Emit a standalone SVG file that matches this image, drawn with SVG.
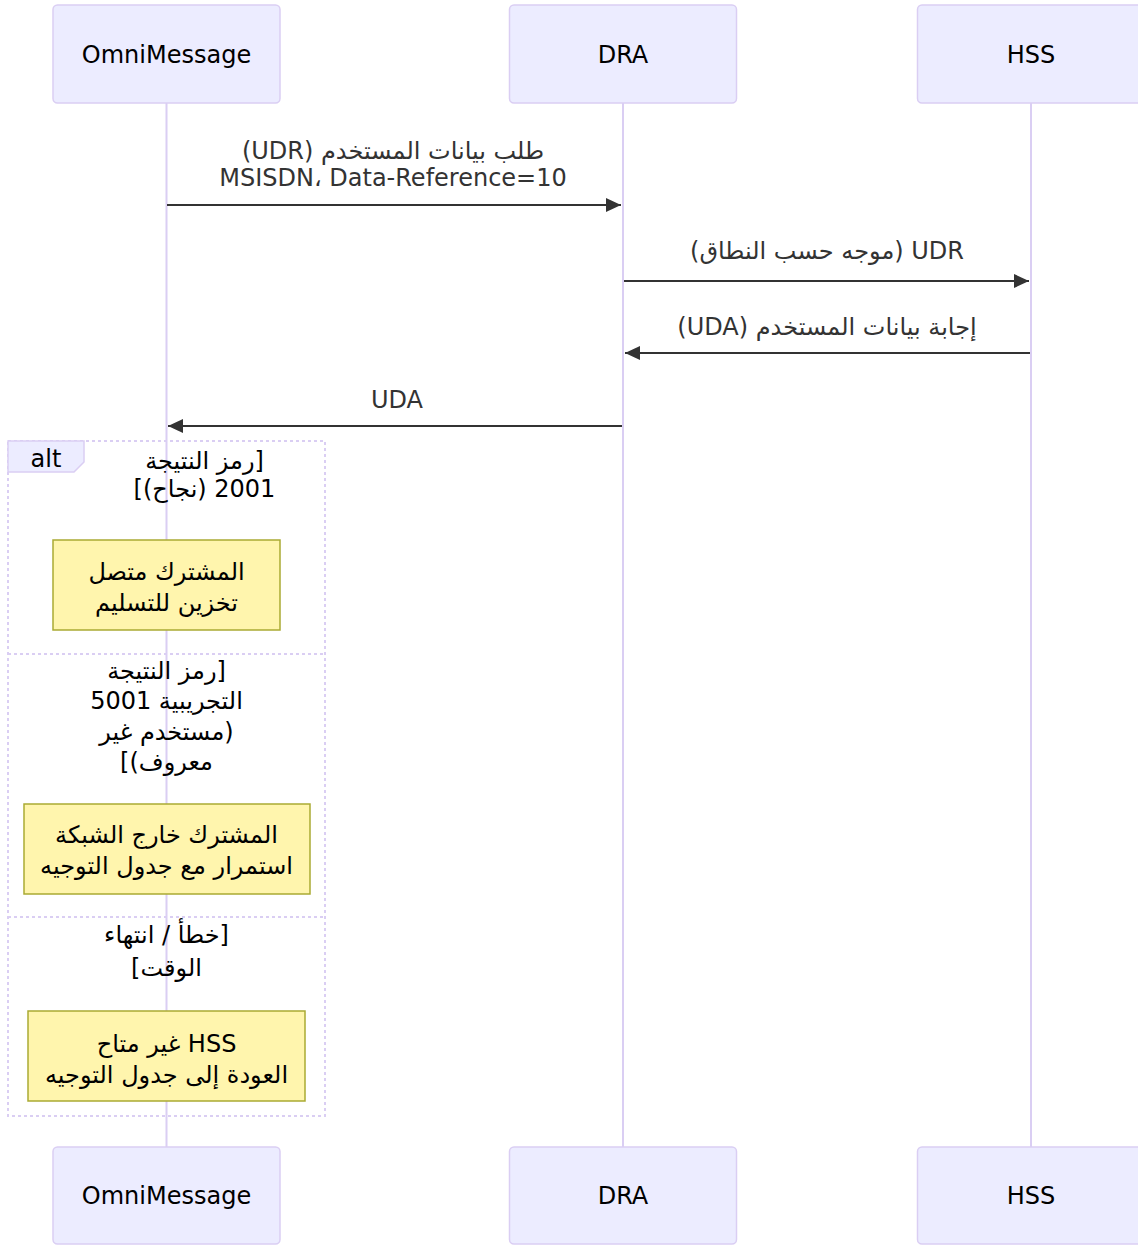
<svg xmlns="http://www.w3.org/2000/svg" width="1138" height="1245" viewBox="0 0 1138 1245">
<style>
  text { font-family: "DejaVu Sans", "Noto Sans", sans-serif; font-size: 24px; text-anchor: middle; }
  .rtl { direction: rtl; }
  .actor rect { fill: #ECECFF; stroke: #DACEF3; stroke-width: 1.5; }
  .actor text { fill: #000; }
  .life { stroke: #DACEF3; stroke-width: 2; }
  .msg { stroke: #333; stroke-width: 2; fill: none; marker-end: url(#arrow); }
  .mtext { fill: #333; }
  .note rect { fill: #FFF5AD; stroke: #AAAA33; stroke-width: 1.5; }
  .note text { fill: #000; }
  .loop { stroke: #DACEF3; stroke-width: 2; stroke-dasharray: 3 3; fill: none; }
  .ltext { fill: #000; }
</style>
<defs>
  <marker id="arrow" viewBox="0 0 10 10" preserveAspectRatio="none" markerUnits="userSpaceOnUse" markerWidth="15" markerHeight="14" refX="10" refY="5" orient="auto">
    <path d="M0,0 L10,5 L0,10 z" fill="#333"/>
  </marker>
</defs>

<g id="lifelines">
  <line class="life" x1="166.5" y1="103" x2="166.5" y2="1147"/>
  <line class="life" x1="623" y1="103" x2="623" y2="1147"/>
  <line class="life" x1="1031" y1="103" x2="1031" y2="1147"/>
</g>

<g id="actor-omni-top" class="actor">
  <rect x="53" y="5" width="227" height="98" rx="4.5"/>
  <text x="166.5" y="63">OmniMessage</text>
</g>
<g id="actor-dra-top" class="actor">
  <rect x="509.5" y="5" width="227" height="98" rx="4.5"/>
  <text x="623" y="63">DRA</text>
</g>
<g id="actor-hss-top" class="actor">
  <rect x="917.5" y="5" width="227" height="98" rx="4.5"/>
  <text x="1031" y="63">HSS</text>
</g>

<g id="alt-block">
  <rect class="loop" x="8" y="441" width="317" height="675"/>
  <line class="loop" x1="8" y1="654" x2="325" y2="654"/>
  <line class="loop" x1="8" y1="917" x2="325" y2="917"/>
  <polygon points="8,441 84,441 84,462 74,472 8,472" fill="#ECECFF" stroke="#DACEF3" stroke-width="1.5"/>
  <text class="ltext" x="46" y="467">alt</text>
  <text class="ltext rtl" x="204.5" y="469">[رمز النتيجة</text>
  <text class="ltext rtl" x="204.5" y="497">2001 (نجاح)]</text>
  <text class="ltext rtl" x="166.5" y="679">[رمز النتيجة</text>
  <text class="ltext rtl" x="166.5" y="709">التجريبية 5001</text>
  <text class="ltext rtl" x="166.5" y="740">(مستخدم غير</text>
  <text class="ltext rtl" x="166.5" y="770">معروف)]</text>
  <text class="ltext rtl" x="166.5" y="943">[خطأ / انتهاء</text>
  <text class="ltext rtl" x="166.5" y="976">الوقت]</text>
</g>

<g id="connectors">
  <g id="msg-udr">
    <line class="msg" x1="167" y1="205" x2="621" y2="205"/>
    <text class="mtext rtl" x="393" y="159">طلب بيانات المستخدم (UDR)</text>
    <text class="mtext" x="393" y="186">MSISDN، Data-Reference=10</text>
  </g>
  <g id="msg-udr-realm">
    <line class="msg" x1="624" y1="281" x2="1029" y2="281"/>
    <text class="mtext rtl" x="827" y="259">UDR (موجه حسب النطاق)</text>
  </g>
  <g id="msg-uda">
    <line class="msg" x1="1030" y1="353" x2="625" y2="353"/>
    <text class="mtext rtl" x="827" y="335">إجابة بيانات المستخدم (UDA)</text>
  </g>
  <g id="msg-uda-back">
    <line class="msg" x1="622" y1="426" x2="168" y2="426"/>
    <text class="mtext" x="397" y="408">UDA</text>
  </g>
</g>

<g id="note-success" class="note">
  <rect x="53" y="540" width="227" height="90"/>
  <text class="rtl" x="166.5" y="580">المشترك متصل</text>
  <text class="rtl" x="166.5" y="611">تخزين للتسليم</text>
</g>
<g id="note-unknown" class="note">
  <rect x="24" y="804" width="286" height="90"/>
  <text class="rtl" x="166.5" y="843">المشترك خارج الشبكة</text>
  <text class="rtl" x="166.5" y="874">استمرار مع جدول التوجيه</text>
</g>
<g id="note-error" class="note">
  <rect x="28" y="1011" width="277" height="90"/>
  <text class="rtl" x="166.5" y="1052">HSS غير متاح</text>
  <text class="rtl" x="166.5" y="1083">العودة إلى جدول التوجيه</text>
</g>

<g id="actor-omni-bottom" class="actor">
  <rect x="53" y="1147" width="227" height="97" rx="4.5"/>
  <text x="166.5" y="1204">OmniMessage</text>
</g>
<g id="actor-dra-bottom" class="actor">
  <rect x="509.5" y="1147" width="227" height="97" rx="4.5"/>
  <text x="623" y="1204">DRA</text>
</g>
<g id="actor-hss-bottom" class="actor">
  <rect x="917.5" y="1147" width="227" height="97" rx="4.5"/>
  <text x="1031" y="1204">HSS</text>
</g>
</svg>
